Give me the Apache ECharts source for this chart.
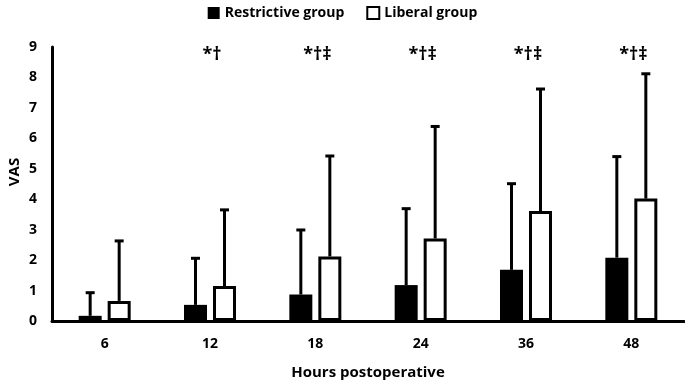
<!DOCTYPE html>
<html>
<head>
<meta charset="utf-8">
<script src="https://cdn.jsdelivr.net/npm/echarts@6/dist/echarts.min.js"></script>
<style>
  html, body { margin: 0; padding: 0; background: #fff; }
  #chart { width: 685px; height: 384px; }
</style>
</head>
<body>
<div id="chart"></div>
<script>
// hours after surgery
const hours = ['6', '12', '18', '24', '36', '48']

// mean VAS and mean + SD
const restrictiveMean = [0.17, 0.53, 0.87, 1.18, 1.68, 2.08]
const restrictiveUpper = [0.93, 2.06, 2.99, 3.69, 4.51, 5.40]
const liberalMean = [0.66, 1.15, 2.12, 2.71, 3.61, 4.02]
const liberalUpper = [2.63, 3.65, 5.42, 6.39, 7.62, 8.12]

// significance marks above each time point
const marks = ['', '*†', '*†‡', '*†‡', '*†‡', '*†‡']

const FONT = '"Open Sans"'
const BAR_W = 23
const BAR_GAP = 6
const MARK_LEVEL = 8.75

const chart = echarts.init(document.getElementById('chart'))

// error bar drawn from the top of a bar up to mean + SD
const errorSeries = (means, uppers, side) => ({
  type: 'custom',
  z: 5,
  silent: true,
  data: means.map((m, i) => [i, m, uppers[i]]),
  renderItem: (params, api) => {
    const dx = side * (BAR_W + BAR_GAP) / 2
    const lo = api.coord([api.value(0), api.value(1)])
    const hi = api.coord([api.value(0), api.value(2)])
    const x = lo[0] + dx
    const style = { stroke: '#000', lineWidth: 3 }
    return {
      type: 'group',
      children: [
        { type: 'line', shape: { x1: x, y1: lo[1], x2: x, y2: hi[1] }, style },
        { type: 'line', shape: { x1: x - 4.5, y1: hi[1], x2: x + 4.5, y2: hi[1] }, style }
      ]
    }
  }
})

chart.setOption({
  animation: false,
  backgroundColor: '#fff',
  textStyle: { fontFamily: FONT, fontWeight: 'bold', color: '#000' },
  legend: {
    top: 1,
    left: 'center',
    itemWidth: 12,
    itemHeight: 12,
    itemGap: 22,
    textStyle: { fontFamily: FONT, fontWeight: 'bold', fontSize: 14, color: '#000' },
    data: [
      { name: 'Restrictive group', icon: 'rect', itemStyle: { color: '#000', borderWidth: 0 } },
      { name: 'Liberal group', icon: 'rect', itemStyle: { color: '#fff', borderColor: '#000', borderWidth: 2 } }
    ]
  },
  grid: { left: 52, right: 1, top: 47, bottom: 63, outerBoundsMode: 'none' },
  xAxis: {
    type: 'category',
    data: hours,
    name: 'Hours postoperative',
    nameLocation: 'middle',
    nameGap: 44,
    nameTextStyle: { fontFamily: FONT, fontWeight: 'bold', fontSize: 15, color: '#000' },
    axisLine: { lineStyle: { color: '#000', width: 3 } },
    axisTick: { show: false },
    axisLabel: { margin: 16, fontFamily: FONT, fontWeight: 'bold', fontSize: 14, color: '#000' }
  },
  yAxis: {
    type: 'value',
    min: 0,
    max: 9,
    interval: 1,
    name: 'VAS',
    nameLocation: 'middle',
    nameGap: 30,
    nameMoveOverlap: false,
    nameTextStyle: { fontFamily: FONT, fontWeight: 'bold', fontSize: 15, color: '#000', padding: [0, 0, 0, 24] },
    axisLine: { show: true, lineStyle: { color: '#000', width: 3 } },
    axisTick: { show: false },
    splitLine: { show: false },
    axisLabel: { margin: 15, fontFamily: FONT, fontWeight: 'bold', fontSize: 14, color: '#000' }
  },
  series: [
    {
      name: 'Restrictive group',
      type: 'bar',
      data: restrictiveMean,
      barWidth: BAR_W,
      barGap: (BAR_GAP / BAR_W * 100) + '%',
      itemStyle: { color: '#000' }
    },
    {
      name: 'Liberal group',
      type: 'bar',
      data: liberalMean,
      barWidth: BAR_W,
      itemStyle: { color: '#fff', borderColor: '#000', borderWidth: 3 }
    },
    errorSeries(restrictiveMean, restrictiveUpper, -1),
    errorSeries(liberalMean, liberalUpper, 1),
    {
      type: 'custom',
      silent: true,
      data: marks.map((m, i) => [i, MARK_LEVEL, m]),
      renderItem: (params, api) => {
        const p = api.coord([api.value(0), api.value(1)])
        return {
          type: 'text',
          style: {
            x: p[0] + 2,
            y: p[1],
            text: marks[params.dataIndex],
            align: 'center',
            verticalAlign: 'middle',
            fontFamily: FONT,
            fontWeight: 'bold',
            fontSize: 18,
            fill: '#000'
          }
        }
      }
    }
  ]
})
</script>
</body>
</html>
